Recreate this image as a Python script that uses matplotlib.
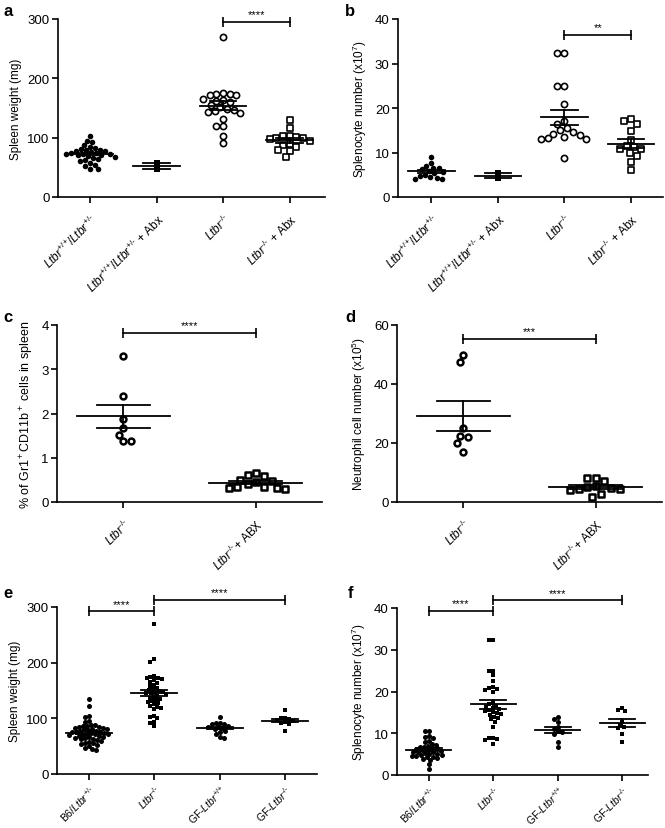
import numpy as np
import matplotlib
matplotlib.use('Agg')
from matplotlib import pyplot as plt

plt.rcParams['font.family'] = ['Liberation Sans', 'DejaVu Sans']
plt.rcParams['mathtext.fontset'] = 'custom'
plt.rcParams['mathtext.rm'] = 'Liberation Sans'
plt.rcParams['mathtext.it'] = 'Liberation Sans:italic'
plt.rcParams['mathtext.bf'] = 'Liberation Sans:bold'

# ---- data ----
HET = r'$\mathit{Ltbr}^{\text{+/-}}$'
WT = r'$\mathit{Ltbr}^{\text{+/+}}$'
KO = r'$\mathit{Ltbr}^{\text{-/-}}$'
ab_labels = [WT + '/' + HET, WT + '/' + HET + ' + Abx', KO, KO + ' + Abx']
cd_labels = [KO, KO + '+ ABX']
ef_labels = ['B6/' + HET, KO, 'GF-' + WT, 'GF-' + KO]

# a: spleen weight (mg)
a_het = [102, 95, 93, 88, 85, 83, 81, 80, 79, 78, 77, 76, 75, 74, 73, 72, 72, 71,
         70, 69, 68, 66, 64, 62, 60, 58, 54, 53, 47, 47]
a_het_abx = [58, 48]
a_ko = [270, 174, 173, 172, 172, 175, 166, 163, 162, 160, 155, 152, 148, 146, 145,
        144, 142, 132, 120, 119, 103, 91]
a_ko_abx = [130, 117, 103, 102, 101, 100, 100, 98, 95, 90, 88, 85, 80, 78, 68]

# b: splenocyte number (x10^7)
b_het = [9.1, 7.7, 7.0, 6.6, 6.5, 6.2, 5.8, 5.6, 5.4, 5.0, 4.8, 4.6, 4.3, 4.0, 4.0]
b_het_abx = [5.3, 4.2]
b_ko = [32.3, 32.3, 25, 25, 21, 17, 16.5, 15.5, 15, 14.5, 14.2, 14, 13.5, 13.2, 13, 13, 8.8]
b_ko_abx = [17.6, 17.0, 16.5, 14.8, 12.8, 11.5, 11.2, 10.8, 10.8, 9.8, 9.2, 7.8, 6.1]

# c: % Gr1+CD11b+
c_ko = [3.3, 2.4, 1.88, 1.67, 1.52, 1.38, 1.38]
c_ko_abx = [0.65, 0.6, 0.58, 0.5, 0.48, 0.45, 0.4, 0.35, 0.33, 0.32, 0.32, 0.3]

# d: neutrophil number (x10^5)
d_ko = [50, 47.5, 25, 22.5, 22, 20, 17]
d_ko_abx = [8.3, 8.3, 7, 5.3, 5, 4.8, 4.5, 4.5, 4.2, 2.8, 1.8]

# e: spleen weight (mg)
e_b6 = [135, 122, 105, 102, 95, 93, 88, 88, 87, 86, 85, 84, 83, 82, 81, 80, 80, 79,
        78, 77, 76, 75, 75, 74, 73, 72, 72, 71, 70, 70, 69, 68, 67, 66, 65, 64, 63,
        62, 61, 60, 58, 56, 55, 53, 52, 50, 47, 45, 43]
e_ko = [270, 206, 202, 176, 174, 173, 172, 171, 168, 165, 163, 160, 158, 155, 153,
        151, 149, 148, 147, 146, 145, 143, 141, 139, 137, 135, 133, 131, 129, 127,
        125, 122, 120, 118, 116, 105, 103, 100, 93, 91, 86]
e_gf_wt = [102, 92, 91, 90, 89, 87, 85, 84, 83, 80, 78, 75, 72, 67, 65]
e_gf_ko = [115, 101, 100, 98, 97, 95, 94, 92, 90, 78]

# f: splenocyte number (x10^7)
f_b6 = [10.5, 10.5, 9.3, 9.2, 8.8, 8.2, 7.8, 7.5, 7.3, 7.0, 6.8, 6.7, 6.5, 6.4, 6.2,
        6.0, 5.9, 5.8, 5.6, 5.5, 5.4, 5.2, 5.0, 5.0, 4.9, 4.8, 4.6, 4.5, 4.4, 4.2,
        4.0, 3.8, 3.5, 2.6, 1.5]
f_ko = [32.3, 32.3, 25.0, 24.8, 24.0, 22.6, 21.0, 20.8, 20.5, 20.3, 20.0, 17.2, 17.0,
        16.6, 16.3, 16.0, 15.8, 15.5, 15.3, 15.0, 14.8, 14.6, 14.3, 14.0, 13.6, 13.3,
        12.8, 11.5, 8.8, 8.8, 8.6, 8.5, 7.5]
f_gf_wt = [13.8, 13.3, 12.8, 11.5, 11.0, 10.5, 10.2, 9.8, 8.0, 6.8]
f_gf_ko = [16.0, 15.6, 15.3, 12.8, 12.0, 11.5, 11.2, 9.8, 7.8]

W, H = 665, 829
fig = plt.figure(figsize=(W / 100, H / 100), dpi=100)


def make_ax(l, r, t, b):
    ax = fig.add_axes([l / W, 1 - b / H, (r - l) / W, (b - t) / H])
    ax.spines['top'].set_visible(False)
    ax.spines['right'].set_visible(False)
    for s in ['left', 'bottom']:
        ax.spines[s].set_linewidth(1.2)
    ax.tick_params(direction='out', length=4, width=1.2, labelsize=9.5, pad=2)
    return ax


def swarm(ax, x0, vals, diam):
    # simple beeswarm in pixel space
    vals = np.asarray(vals, float)
    pts = ax.transData.transform(np.column_stack([np.full(len(vals), x0), vals]))
    step = diam * 0.2
    cands = sorted(np.arange(-60, 61) * step, key=abs)
    placed = []
    xs = np.zeros(len(vals))
    for i in np.argsort(-vals, kind='stable'):
        yp = pts[i, 1]
        for c in cands:
            if all((c - px) ** 2 + (yp - py) ** 2 >= diam ** 2 for px, py in placed):
                break
        placed.append((c, yp))
        xs[i] = pts[i, 0] + c
    return ax.transData.inverted().transform(np.column_stack([xs, pts[:, 1]]))[:, 0]


def dots(ax, groups, styles, pack=1.0):
    for i, (vals, st) in enumerate(zip(groups, styles)):
        marker, filled, size, lw = st
        diam = (np.sqrt(size) / 0.72 + lw) * pack
        xs = swarm(ax, i, vals, diam)
        if filled:
            ax.scatter(xs, vals, s=size, marker=marker, c='k', linewidths=0, zorder=2,
                       clip_on=False)
        else:
            ax.scatter(xs, vals, s=size, marker=marker, facecolors='white',
                       edgecolors='k', linewidths=lw, zorder=2, clip_on=False)
        m = np.mean(vals)
        se = np.std(vals, ddof=1) / np.sqrt(len(vals))
        ax.plot([i - 0.35, i + 0.35], [m, m], color='k', lw=1.3, zorder=3)
        ax.plot([i - 0.2, i + 0.2], [m + se, m + se], color='k', lw=1.3, zorder=3)
        ax.plot([i - 0.2, i + 0.2], [m - se, m - se], color='k', lw=1.3, zorder=3)
        ax.plot([i, i], [m - se, m + se], color='k', lw=1.3, zorder=3)


def bracket(ax, x1, x2, y, stars):
    ax.plot([x1, x2], [y, y], color='k', lw=1.2, clip_on=False)
    ax.plot([x1, x2], [y, y], ls='none', marker='|', ms=7, mew=1.2, color='k',
            clip_on=False)
    ax.annotate(stars, ((x1 + x2) / 2, y), xytext=(0, 2), textcoords='offset points',
                ha='center', va='bottom', fontsize=8, annotation_clip=False)


def xlabels(ax, labels, size=8.5, pad=6):
    ax.set_xticks(range(len(labels)))
    ax.set_xticklabels(labels, rotation=45, ha='right', rotation_mode='anchor',
                       fontsize=size)
    ax.tick_params(axis='x', pad=pad)


# ---- a ----
ax = make_ax(58, 325, 20, 198)
ax.set_xlim(-0.48, 3.53)
ax.set_ylim(0, 300)
ax.set_yticks([0, 100, 200, 300])
dots(ax, [a_het, a_het_abx, a_ko, a_ko_abx],
     [('o', True, 16, 0), ('s', True, 13, 0), ('o', False, 20, 1.2), ('s', False, 20, 1.2)],
     pack=0.9)
bracket(ax, 2, 3, 295, '****')
xlabels(ax, ab_labels)
ax.set_ylabel('Spleen weight (mg)', fontsize=8.5)

# ---- b ----
ax = make_ax(398, 663, 20, 198)
ax.set_xlim(-0.5, 3.48)
ax.set_ylim(0, 40)
ax.set_yticks([0, 10, 20, 30, 40])
dots(ax, [b_het, b_het_abx, b_ko, b_ko_abx],
     [('o', True, 16, 0), ('s', True, 13, 0), ('o', False, 20, 1.2), ('s', False, 20, 1.2)],
     pack=0.95)
bracket(ax, 2, 3, 36.5, '**')
xlabels(ax, ab_labels)
ax.set_ylabel(r'Splenocyte number (x10$^7$)', fontsize=8.5)

# ---- c ----
ax = make_ax(57, 322, 326, 503)
ax.set_xlim(-0.5, 1.5)
ax.set_ylim(0, 4)
ax.set_yticks([0, 1, 2, 3, 4])
dots(ax, [c_ko, c_ko_abx], [('o', False, 18, 1.8), ('s', False, 20, 1.8)])
bracket(ax, 0, 1, 3.83, '****')
xlabels(ax, cd_labels)
ax.set_ylabel(r'% of Gr1$^+$CD11b$^+$ cells in spleen', fontsize=9)

# ---- d ----
ax = make_ax(397, 662, 326, 503)
ax.set_xlim(-0.5, 1.5)
ax.set_ylim(0, 60)
ax.set_yticks([0, 20, 40, 60])
dots(ax, [d_ko, d_ko_abx], [('o', False, 18, 1.8), ('s', False, 24, 1.8)])
bracket(ax, 0, 1, 55.4, '***')
xlabels(ax, cd_labels)
ax.set_ylabel(r'Neutrophil cell number (x10$^5$)', fontsize=8.5)

# ---- e ----
ax = make_ax(57, 317, 608, 775)
ax.set_xlim(-0.49, 3.49)
ax.set_ylim(0, 300)
ax.set_yticks([0, 100, 200, 300])
dots(ax, [e_b6, e_ko, e_gf_wt, e_gf_ko],
     [('o', True, 13, 0), ('s', True, 12, 0), ('o', True, 13, 0), ('s', True, 12, 0)],
     pack=0.8)
bracket(ax, 0, 1, 292, '****')
bracket(ax, 1, 3, 312, '****')
xlabels(ax, ef_labels, 7.5, 2)
ax.set_ylabel('Spleen weight (mg)', fontsize=8.5)

# ---- f ----
ax = make_ax(397, 648, 609, 776)
ax.set_xlim(-0.49, 3.4)
ax.set_ylim(0, 40)
ax.set_yticks([0, 10, 20, 30, 40])
dots(ax, [f_b6, f_ko, f_gf_wt, f_gf_ko],
     [('o', True, 13, 0), ('s', True, 12, 0), ('o', True, 13, 0), ('s', True, 12, 0)],
     pack=0.8)
bracket(ax, 0, 1, 39.2, '****')
bracket(ax, 1, 3, 41.8, '****')
xlabels(ax, ef_labels, 7.5, 2)
ax.set_ylabel(r'Splenocyte number (x10$^7$)', fontsize=8.5)

for letter, x, y in [('a', 3, 12), ('b', 345, 12), ('c', 3, 318), ('d', 345, 318),
                     ('e', 3, 594), ('f', 348, 594)]:
    fig.text(x / W, 1 - y / H, letter, fontsize=12, fontweight='bold', va='center')

fig.savefig('out.png', dpi=100)
